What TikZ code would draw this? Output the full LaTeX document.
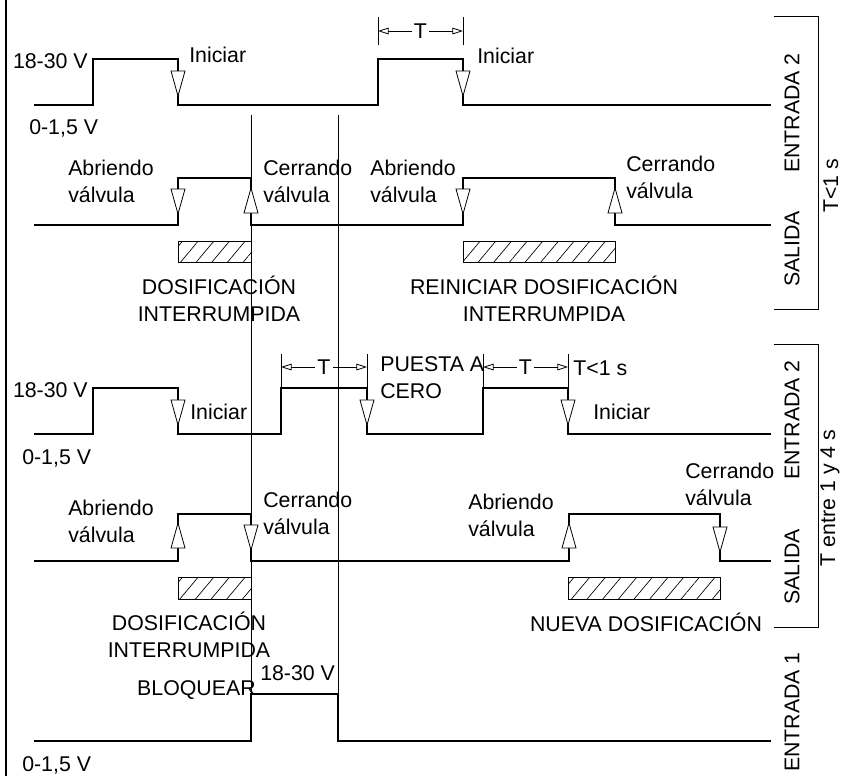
\documentclass[tikz,border=0pt]{standalone}
\usepackage{fontspec}
\setmainfont{Liberation Sans}
\usetikzlibrary{arrows.meta,patterns.meta}

\begin{document}
\begin{tikzpicture}[x=0.75pt,y=-0.75pt,
    every node/.style={inner sep=0pt,font=\fontsize{16}{20.25}\selectfont},
    wave/.style={line width=0.8pt},
    guide/.style={line width=0.5pt},
    dimline/.style={line width=0.6pt,{Triangle[open,length=8pt,width=5pt]}-{Triangle[open,length=8pt,width=5pt]}},
    hatch/.style={draw,line width=0.6pt,pattern={Lines[angle=50,distance=9pt,line width=0.5pt]}},
    tridown/.pic={\draw[line width=0.6pt,fill=white] (-7,0) -- (7,0) -- (0,25) -- cycle;},
    triup/.pic={\draw[line width=0.6pt,fill=white] (0,0) -- (7,25) -- (-7,25) -- cycle;}]
    \useasboundingbox (0,0) rectangle (841,776);

    \draw[wave] (6,0) -- (6,776);
    \draw[guide] (251,115) -- (251,741);
    \draw[guide] (338,115) -- (338,741);

    \draw[wave] (34,105) -- (93,105) -- (93,59) -- (178,59) -- (178,105) -- (378,105) -- (378,59)
        -- (463,59) -- (463,105) -- (771,105);
    \pic at (178,71) {tridown};
    \pic at (463,71) {tridown};
    \draw[guide] (378,17) -- (378,45);
    \draw[guide] (463,17) -- (463,45);
    \draw[dimline] (378,31) -- node[fill=white,inner sep=1.5pt] (tA) {T} (463,31);

    \node[anchor=east] (hiA) at (88,61) {18-30 V};
    \node[anchor=west] (loA) at (29,128) {0-1,5 V};
    \node[anchor=west] (iniA1) at (189,55) {Iniciar};
    \node[anchor=west] (iniA2) at (477,56) {Iniciar};

    \draw[wave] (34,225) -- (178,225) -- (178,178) -- (251,178) -- (251,225) -- (463,225) -- (463,178)
        -- (615,178) -- (615,225) -- (771,225);
    \pic at (178,189) {tridown};
    \pic at (251,188) {triup};
    \pic at (463,189) {tridown};
    \pic at (615,188) {triup};

    \node[anchor=west,align=left] (abrA1) at (68,181.5) {Abriendo\\válvula};
    \node[anchor=west,align=left] (cerA1) at (263,181.5) {Cerrando\\válvula};
    \node[anchor=west,align=left] (abrA2) at (370,181.5) {Abriendo\\válvula};
    \node[anchor=west,align=left] (cerA2) at (626,177.5) {Cerrando\\válvula};

    \path[hatch] (178,241) rectangle (251,262);
    \path[hatch] (463,241) rectangle (615,262);
    \node[align=center] (dosA) at (219,298.5) {DOSIFICACIÓN\\INTERRUMPIDA};
    \node[align=center] (reiA) at (544,298.5) {REINICIAR DOSIFICACIÓN\\INTERRUMPIDA};

    \draw[guide] (774,16) -- (818,16) -- (818,309) -- (774,309);
    \node[rotate=90] (entA) at (792,113) {ENTRADA 2};
    \node[rotate=90] (salA) at (792,249) {SALIDA};
    \node[rotate=90] (tlimA) at (831,186) {T<1 s};

    \draw[wave] (34,434) -- (93,434) -- (93,388) -- (178,388) -- (178,434) -- (281,434) -- (281,388)
        -- (367,388) -- (367,434) -- (483,434) -- (483,388) -- (568,388) -- (568,434) -- (771,434);
    \pic at (178,400) {tridown};
    \pic at (367,400) {tridown};
    \pic at (568,400) {tridown};
    \draw[guide] (281,354) -- (281,388);
    \draw[guide] (367,354) -- (367,388);
    \draw[guide] (483,354) -- (483,388);
    \draw[guide] (568,354) -- (568,388);
    \draw[dimline] (281,367) -- node[fill=white,inner sep=1.5pt] (tB1) {T} (367,367);
    \draw[dimline] (483,367) -- node[fill=white,inner sep=1.5pt] (tB2) {T} (568,367);

    \node[anchor=east] (hiB) at (88,390) {18-30 V};
    \node[anchor=west] (loB) at (22,458) {0-1,5 V};
    \node[anchor=west] (iniB1) at (190,412) {Iniciar};
    \node[anchor=west,align=left] (puesta) at (380,378) {PUESTA A\\CERO};
    \node[anchor=west] (tlimB) at (573,368) {T<1 s};
    \node[anchor=west] (iniB2) at (593,412) {Iniciar};

    \draw[wave] (34,561) -- (178,561) -- (178,514) -- (251,514) -- (251,561) -- (569,561) -- (569,514)
        -- (720,514) -- (720,561) -- (771,561);
    \pic at (178,523) {triup};
    \pic at (251,525) {tridown};
    \pic at (569,523) {triup};
    \pic at (720,527) {tridown};

    \node[anchor=west,align=left] (abrB1) at (68,521) {Abriendo\\válvula};
    \node[anchor=west,align=left] (cerB1) at (263,513.5) {Cerrando\\válvula};
    \node[anchor=west,align=left] (abrB2) at (468,515) {Abriendo\\válvula};
    \node[anchor=west,align=left] (cerB2) at (685,484.5) {Cerrando\\válvula};

    \path[hatch] (178,577) rectangle (251,599);
    \path[hatch] (568,577) rectangle (720,599);
    \node[align=center] (dosB) at (189,635) {DOSIFICACIÓN\\INTERRUMPIDA};
    \node (nueva) at (646,622) {NUEVA DOSIFICACIÓN};

    \draw[guide] (774,344) -- (818,344) -- (818,627) -- (774,627);
    \node[rotate=90] (entB) at (792,420) {ENTRADA 2};
    \node[rotate=90] (salB) at (792,567) {SALIDA};
    \node[rotate=90] (tlimB2) at (830,498) {T entre 1 y 4 s};

    \draw[wave] (34,741) -- (251,741) -- (251,694) -- (338,694) -- (338,741) -- (771,741);
    \node[anchor=east] (bloq) at (256,690) {BLOQUEAR};
    \node[anchor=west] (hiC) at (260,673) {18-30 V};
    \node[anchor=west] (loC) at (22,765) {0-1,5 V};
    \node[rotate=90] (entC) at (792,712) {ENTRADA 1};
\end{tikzpicture}
\end{document}
